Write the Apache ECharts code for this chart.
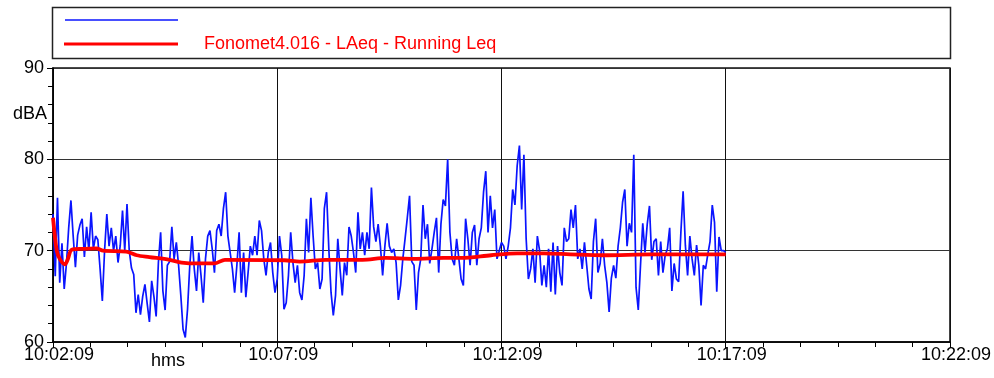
<!DOCTYPE html>
<html>
<head>
<meta charset="utf-8">
<script src="https://cdn.jsdelivr.net/npm/echarts@6/dist/echarts.min.js"></script>
<style>
  html, body { margin: 0; padding: 0; background: #fff; }
  #chart { width: 994px; height: 378px; }
</style>
</head>
<body>
<div id="chart"></div>
<script>
// sound level, one value every 3 s from 10:02:09
var sampleStep = 3;
var levelValues = [
  74.0, 67.2, 75.8, 66.5, 70.8, 65.8, 68.6, 72.5, 75.5, 71.6,
  68.2, 71.7, 72.8, 73.5, 69.3, 72.6, 70.0, 74.2, 70.2, 71.6,
  71.2, 68.0, 64.5, 70.0, 74.0, 70.5, 72.5, 70.0, 71.6, 68.7,
  70.6, 74.4, 70.0, 75.1, 70.0, 68.1, 67.4, 63.2, 65.2, 63.0,
  65.0, 66.3, 64.2, 62.2, 66.7, 65.0, 62.8, 68.7, 72.0, 65.6,
  63.5, 68.4, 68.8,
  72.6, 69.1, 70.9, 68.4, 65.1, 61.4, 60.5, 63.6, 68.4, 71.6,
  68.0, 65.6, 69.8, 67.3, 64.3, 69.1, 71.6, 72.2, 70.2, 67.6,
  72.2, 72.9, 71.6, 74.6, 76.4, 71.6, 69.8, 68.0, 65.4, 68.4,
  72.0, 65.4, 69.8, 64.9, 67.6, 70.5, 69.5, 71.6, 69.5, 73.3,
  72.2, 69.1, 67.3, 69.8, 70.9, 67.6, 65.4, 66.9, 71.6, 69.5,
  63.6,
  64.3, 67.3, 72.0, 68.7, 66.5, 68.4, 65.4, 64.6, 67.3, 73.5,
  69.8, 75.8, 71.6, 68.0, 68.7, 65.8, 66.9, 74.6, 76.4, 70.2,
  65.4, 62.9, 65.1, 71.3, 68.0, 65.1, 68.7, 67.3, 72.6, 71.6,
  69.8, 67.6, 74.2, 70.2, 72.0, 69.5, 72.0, 70.2, 76.9, 72.6,
  71.0, 72.9, 70.5, 67.3, 70.5, 73.0, 70.5, 69.8, 70.2, 68.7,
  64.6,
  66.2, 69.1, 71.3, 73.6, 76.0, 68.8, 68.4, 63.5, 67.6, 69.1,
  75.0, 71.3, 72.9, 68.6, 70.2, 72.0, 73.6, 67.6, 72.9, 75.6,
  74.9, 80.0, 72.0, 69.1, 68.4, 71.3, 69.1, 66.9, 66.2, 73.5,
  71.3, 68.4, 72.0, 72.8, 68.4, 71.3, 72.5, 76.4, 78.7, 72.0,
  76.0, 72.5, 74.5, 69.1, 70.0, 70.9, 70.5, 69.1, 70.5, 72.5,
  76.7,
  75.0, 79.3, 81.5, 74.5, 80.5, 71.3, 66.9, 68.0, 70.2, 66.5,
  71.6, 70.0, 66.2, 68.4, 66.0, 70.2, 65.5, 70.9, 65.2, 70.5,
  67.6, 66.2, 72.5, 71.0, 71.3, 74.5, 72.5, 75.0, 69.1, 70.2,
  68.0, 70.9, 68.4, 65.8, 64.7, 71.0, 73.5, 67.6, 68.6, 71.3,
  68.4, 66.5, 63.3, 67.0, 68.4, 67.0, 70.5, 72.5, 75.3,
  76.7, 70.5, 73.0, 72.0, 80.5, 66.0, 63.5, 68.4, 73.0, 69.8,
  72.9, 74.9, 69.0, 71.0, 71.3, 67.3, 71.0, 67.6, 69.5, 70.2,
  72.5, 65.6, 68.6, 66.9, 66.6, 72.0, 76.5, 70.6, 67.3, 71.6,
  69.1, 67.3, 70.6, 68.4, 64.0, 68.4, 68.0, 69.6, 71.0, 75.0,
  73.1, 65.5, 71.5, 70.0, 70.0, 69.8
];

// running Leq (seconds from 10:02:09, dBA)
var leqTimes = [0, 5, 9, 16, 20, 25, 40, 58, 67, 98, 112, 129, 156, 172, 194, 216, 230, 310,
  330, 365, 414, 445, 483, 523, 546, 586, 621, 657, 692, 737, 801, 846, 900];
var leqValues = [73.6, 70.0, 69.1, 68.5, 69.1, 70.1, 70.2, 70.25, 70.0, 69.9, 69.5, 69.3, 69.0, 68.7, 68.6, 68.6, 69.0, 68.95,
  68.8, 69.0, 69.0, 69.2, 69.1, 69.2, 69.2, 69.5, 69.7, 69.7, 69.6, 69.5, 69.6, 69.6, 69.6];

var timeLabels = ['10:02:09', '10:07:09', '10:12:09', '10:17:09', '10:22:09'];
var seriesName = 'Fonomet4.016 - LAeq - Running Leq';

var chart = echarts.init(document.getElementById('chart'), null, { renderer: 'canvas' });

var levelData = levelValues.map(function (v, i) { return [i * sampleStep, v]; });
var leqData = leqTimes.map(function (t, i) { return [t, leqValues[i]]; });

var font = 'Liberation Sans, Arial, sans-serif';

var option = {
  animation: false,
  backgroundColor: '#fff',
  grid: { left: 53, right: 44, top: 68, bottom: 36, show: true, borderColor: '#111', borderWidth: 1.5 },
  xAxis: {
    type: 'value',
    min: 0, max: 1200, interval: 300,
    axisLine: { show: true, onZero: false, lineStyle: { color: '#000', width: 1.5 } },
    axisTick: { show: true, length: 6, lineStyle: { color: '#000' } },
    minorTick: { show: true, splitNumber: 6, length: 5, lineStyle: { color: '#000' } },
    splitLine: { show: true, lineStyle: { color: '#111', width: 1 } },
    axisLabel: {
      color: '#000', fontFamily: font, fontSize: 18, margin: 4,
      padding: [0, 0, 0, 12],
      formatter: function (v) { return timeLabels[Math.round(v / 300)]; }
    }
  },
  yAxis: {
    type: 'value',
    min: 60, max: 90, interval: 10,
    axisLine: { show: true, lineStyle: { color: '#000', width: 1.5 } },
    axisTick: { show: true, length: 6, lineStyle: { color: '#000' } },
    minorTick: { show: true, splitNumber: 5, length: 5, lineStyle: { color: '#000' } },
    splitLine: { show: true, lineStyle: { color: '#333', width: 1 } },
    axisLabel: { color: '#000', fontFamily: font, fontSize: 18, margin: 9 }
  },
  series: [
    {
      type: 'line',
      data: levelData,
      symbol: 'none',
      lineStyle: { color: '#0a14ff', width: 1.7 },
      z: 2
    },
    {
      name: seriesName,
      type: 'line',
      data: leqData,
      symbol: 'none',
      smooth: 0.3,
      lineStyle: { color: '#ff0000', width: 3.8 },
      z: 3
    }
  ],
  graphic: [
    { type: 'rect', shape: { x: 52.5, y: 7.5, width: 898, height: 51 },
      style: { fill: '#fff', stroke: '#222', lineWidth: 1.5 } },
    { type: 'line', shape: { x1: 65, y1: 20, x2: 178, y2: 20 },
      style: { stroke: '#0a14ff', lineWidth: 1.5 } },
    { type: 'line', shape: { x1: 64, y1: 44, x2: 178, y2: 44 },
      style: { stroke: '#ff0000', lineWidth: 3 } },
    { type: 'text', x: 204, y: 44,
      style: { text: seriesName, fill: '#ff0000', font: '18px ' + font, verticalAlign: 'middle' } },
    { type: 'text', x: 47, y: 114,
      style: { text: 'dBA', fill: '#000', font: '18px ' + font, align: 'right', verticalAlign: 'middle' } },
    { type: 'text', x: 168, y: 361,
      style: { text: 'hms', fill: '#000', font: '18px ' + font, align: 'center', verticalAlign: 'middle' } }
  ]
};

chart.setOption(option);
</script>
</body>
</html>
